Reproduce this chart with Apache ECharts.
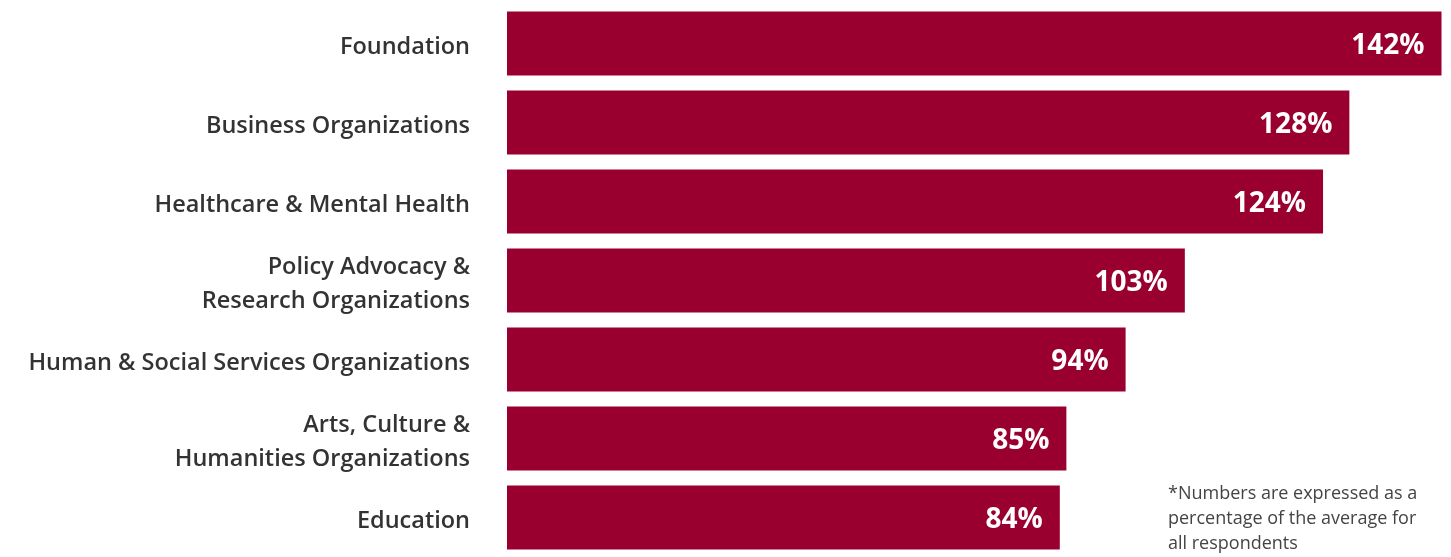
<!DOCTYPE html>
<html><head><meta charset="utf-8">
<script src="https://cdn.jsdelivr.net/npm/echarts@6/dist/echarts.min.js"></script>
<style>html,body{margin:0;padding:0;background:#fff}#c{width:1451px;height:557px}</style>
</head><body><div id="c"></div>
<script>
const categories = ["Foundation","Business Organizations","Healthcare & Mental Health","Policy Advocacy &\nResearch Organizations","Human & Social Services Organizations","Arts, Culture &\nHumanities Organizations","Education"];
const values = [142,128,124,103,94,85,84];
const footnote = "*Numbers are expressed as a\npercentage of the average for\nall respondents";

const chart = echarts.init(document.getElementById('c'));
chart.setOption({
  animation:false,
  grid:{left:507,right:9.5,top:4,bottom:0,containLabel:false},
  xAxis:{type:'value',min:0,max:142,show:false},
  yAxis:{type:'category',inverse:true,data:categories,
    axisLine:{show:false},axisTick:{show:false},
    axisLabel:{margin:37,align:'right',
      formatter:v=>v.split('\n').map(s=>'{a|'+s+'}').join('\n'),
      rich:{a:{color:'#333333',fontFamily:'Open Sans',fontWeight:600,fontSize:23.5,lineHeight:34,padding:[8,0,0,0],align:'right'}}}},
  series:[{type:'bar',data:values,barCategoryGap:'19%',
    itemStyle:{color:'#990030'},
    label:{show:true,position:'insideRight',distance:17,offset:[0,3],color:'#ffffff',fontFamily:'Open Sans',fontWeight:700,fontSize:28,
      formatter:p=>p.value+'%'}}],
  graphic:[{type:'text',left:1168,top:481,style:{text:footnote,fill:'#444444',font:'18px "Open Sans"',lineHeight:25}}]
});
</script></body></html>
